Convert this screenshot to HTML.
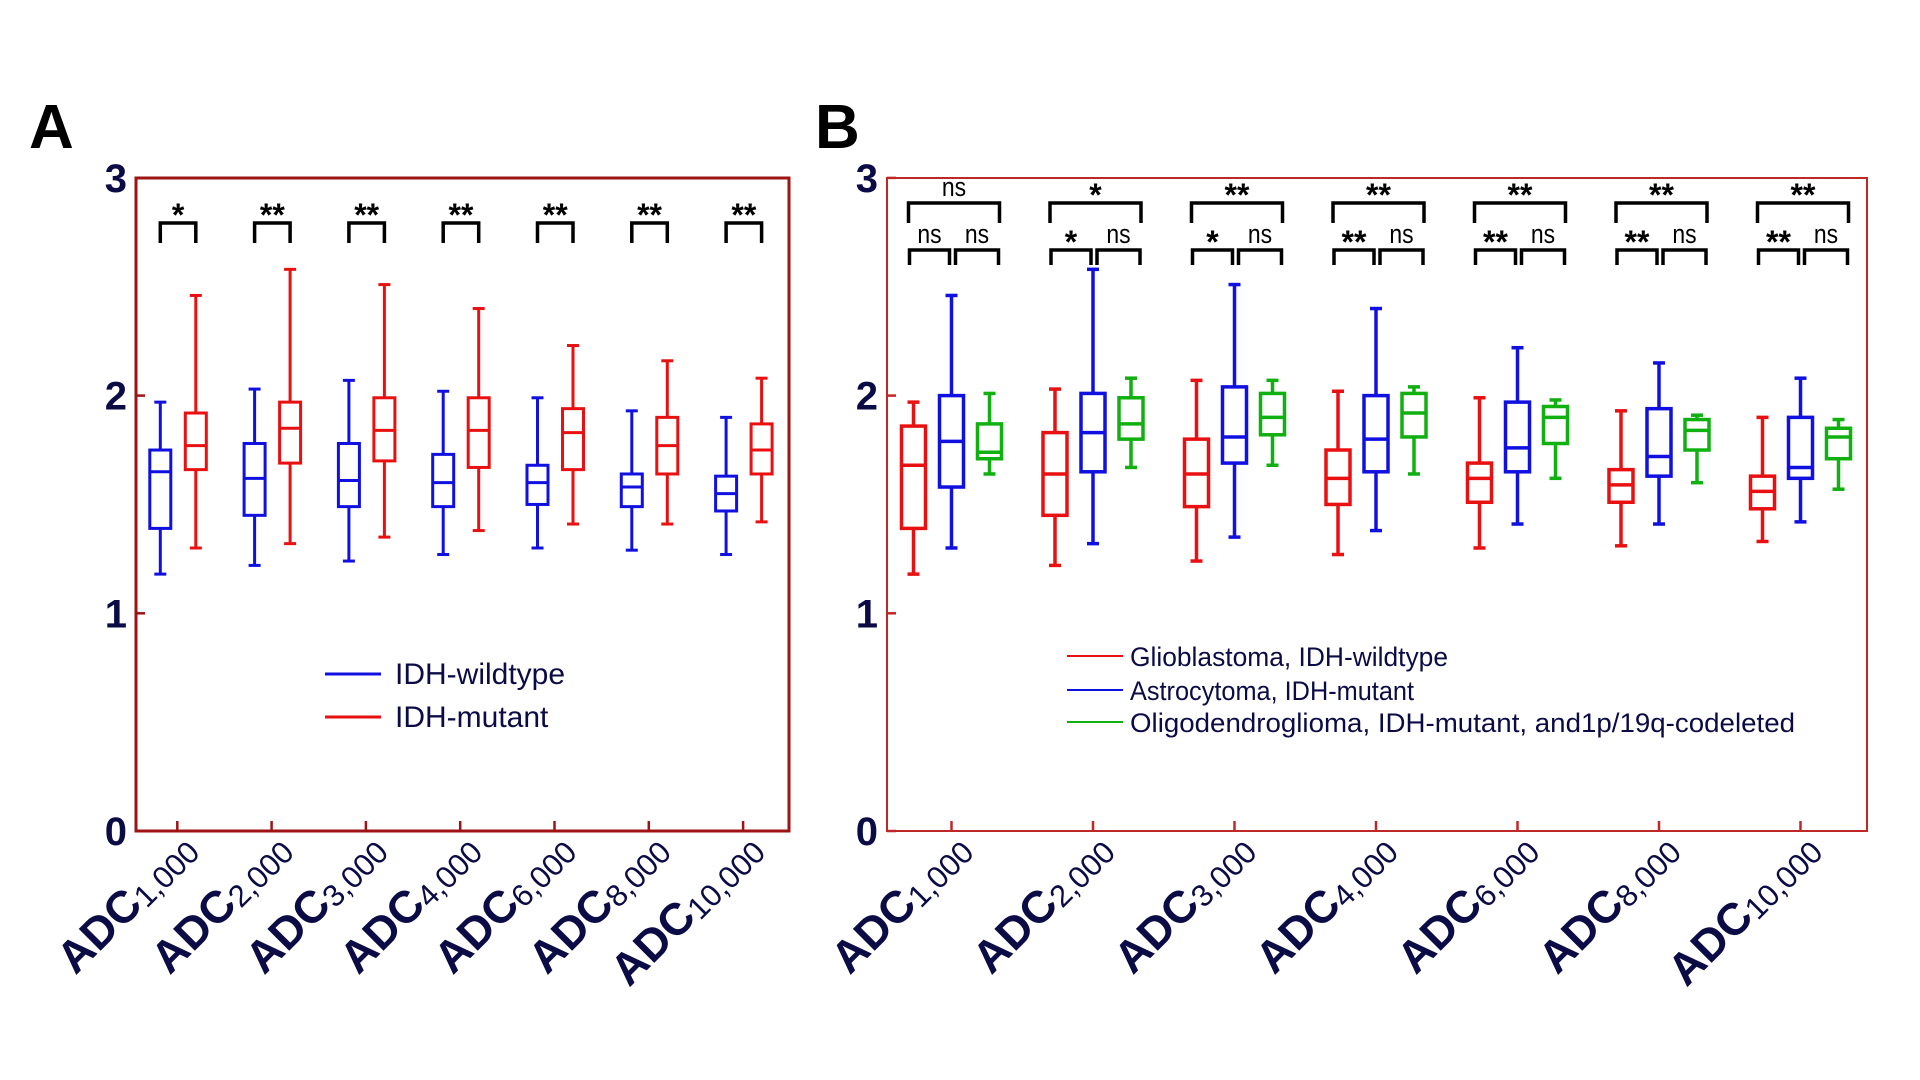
<!DOCTYPE html>
<html><head><meta charset="utf-8"><style>
html,body{margin:0;padding:0;background:#fff;}
svg{display:block;font-family:"Liberation Sans",Arial,sans-serif;}
</style></head><body>
<svg id="fig" width="1920" height="1080" viewBox="0 0 1920 1080"></svg>
<script>
const categories = ["1,000","2,000","3,000","4,000","6,000","8,000","10,000"];
const yTicks = [0,1,2,3];
// box stats: [whiskerLow, q1, median, q3, whiskerHigh]
const aWildtype = [[1.18,1.39,1.65,1.75,1.97],[1.22,1.45,1.62,1.78,2.03],[1.24,1.49,1.61,1.78,2.07],[1.27,1.49,1.60,1.73,2.02],[1.30,1.50,1.60,1.68,1.99],[1.29,1.49,1.58,1.64,1.93],[1.27,1.47,1.55,1.63,1.90]];
const aMutant = [[1.30,1.66,1.77,1.92,2.46],[1.32,1.69,1.85,1.97,2.58],[1.35,1.70,1.84,1.99,2.51],[1.38,1.67,1.84,1.99,2.40],[1.41,1.66,1.83,1.94,2.23],[1.41,1.64,1.77,1.90,2.16],[1.42,1.64,1.75,1.87,2.08]];
const aSig = ["*","**","**","**","**","**","**"];
const bGlio = [[1.18,1.39,1.68,1.86,1.97],[1.22,1.45,1.64,1.83,2.03],[1.24,1.49,1.64,1.80,2.07],[1.27,1.50,1.62,1.75,2.02],[1.30,1.51,1.62,1.69,1.99],[1.31,1.51,1.59,1.66,1.93],[1.33,1.48,1.56,1.63,1.90]];
const bAstro = [[1.30,1.58,1.79,2.00,2.46],[1.32,1.65,1.83,2.01,2.58],[1.35,1.69,1.81,2.04,2.51],[1.38,1.65,1.80,2.00,2.40],[1.41,1.65,1.76,1.97,2.22],[1.41,1.63,1.72,1.94,2.15],[1.42,1.62,1.67,1.90,2.08]];
const bOligo = [[1.64,1.71,1.74,1.87,2.01],[1.67,1.80,1.87,1.99,2.08],[1.68,1.82,1.90,2.01,2.07],[1.64,1.81,1.92,2.01,2.04],[1.62,1.78,1.90,1.95,1.98],[1.60,1.75,1.84,1.89,1.91],[1.57,1.71,1.81,1.85,1.89]];
const bSigTop = ["ns","*","**","**","**","**","**"];
const bSigLeft = ["ns","*","*","**","**","**","**"];
const bSigRight = ["ns","ns","ns","ns","ns","ns","ns"];

const NS="http://www.w3.org/2000/svg";
const svg=document.getElementById('fig');
function el(tag,attrs,parent){const e=document.createElementNS(NS,tag);for(const k in attrs)e.setAttribute(k,attrs[k]);(parent||svg).appendChild(e);return e;}
const NAVY="#0b0b45";
const yScale=v=>831-v*217.7;

function panel(cfg){
  const g=el('g',{});
  
  
  const xScale=i=>cfg.x0+i*cfg.step;
  const fr=el('rect',{x:cfg.left,y:178,width:cfg.right-cfg.left,height:653,fill:'none',stroke:cfg.axisColor,'stroke-width':cfg.axisW},g);
  
  
  yTicks.forEach(t=>{
    const y=yScale(t);
    el('line',{x1:cfg.left,x2:cfg.left+9,y1:y,y2:y,stroke:cfg.axisColor,'stroke-width':2.5},g);
    const tx=el('text',{x:cfg.left-9,y:y+14,'text-anchor':'end','font-size':40,'font-weight':'bold',fill:NAVY},g);
    tx.textContent=t;
    
    
  });
  categories.forEach((c,i)=>{
    const x=xScale(i);
    el('line',{x1:x,x2:x,y1:831,y2:821,stroke:cfg.axisColor,'stroke-width':2.5},g);
    const tx=el('text',{transform:`translate(${x+22},${852}) rotate(-45)`,'text-anchor':'end',fill:NAVY},g);
    
    
    const t1=el('tspan',{'font-size':45,'font-weight':'bold'},tx);t1.textContent='ADC';
    const t2=el('tspan',{'font-size':31,dy:3},tx);t2.textContent=c;
  });
  cfg.series.forEach(s=>{
    s.data.forEach((d,i)=>{
      const cx=xScale(i)+s.off, w=cfg.boxW;
      const bg=el('g',{stroke:s.color,'stroke-width':cfg.lw,fill:'none'},g);
      
      
      el('line',{x1:cx,x2:cx,y1:yScale(d[0]),y2:yScale(d[1])},bg);
      el('line',{x1:cx,x2:cx,y1:yScale(d[3]),y2:yScale(d[4])},bg);
      el('line',{x1:cx-6,x2:cx+6,y1:yScale(d[0]),y2:yScale(d[0])},bg);
      el('line',{x1:cx-6,x2:cx+6,y1:yScale(d[4]),y2:yScale(d[4])},bg);
      el('rect',{x:cx-w/2,y:yScale(d[3]),width:w,height:yScale(d[1])-yScale(d[3])},bg);
      el('line',{x1:cx-w/2,x2:cx+w/2,y1:yScale(d[2]),y2:yScale(d[2])},bg);
    });
  });
  return {g,xScale};
}
function bracket(g,x1,x2,yTop,yBot,label,name){
  const b=el('path',{d:`M${x1},${yBot} V${yTop} H${x2} V${yBot}`,fill:'none',stroke:'#000','stroke-width':3.5},g);
  
  
  const isStar=label.indexOf('*')>=0;
  const cx=(x1+x2)/2;
  const t=el('text',{x:cx,y:isStar?yTop+3:yTop-7,'text-anchor':'middle','font-size':isStar?32:27,'font-weight':isStar?'bold':'normal',fill:'#000'},g);
  if(!isStar)t.setAttribute('transform',`translate(${cx},0) scale(0.85,1) translate(${-cx},0)`);
  t.textContent=label;
  
  
}

const A=panel({name:'panel-a',left:136,right:789,x0:177.3,step:94.3,axisColor:'#9e1414',axisW:3,boxW:21,lw:3,
  series:[{key:'wildtype',data:aWildtype,color:'#1010e0',off:-17},{key:'mutant',data:aMutant,color:'#e81010',off:18.5}]});
aSig.forEach((s,i)=>{const x=A.xScale(i);bracket(A.g,x-17,x+18.5,223,243,s,'sig-bracket-a-'+i);});
(function(){
  const lg=el('g',{},A.g);
  [['IDH-wildtype','#1010e0',674],['IDH-mutant','#e81010',717]].forEach(([t,c,y])=>{
    el('line',{x1:325,x2:381,y1:y,y2:y,stroke:c,'stroke-width':3},lg);
    const tx=el('text',{x:395,y:y+10,'font-size':30,fill:NAVY},lg);tx.textContent=t;
    
  });
})();
const la=el('text',{x:29,y:148,'font-size':62,'font-weight':'bold',fill:'#000'});la.textContent='A';


const B=panel({name:'panel-b',left:887,right:1867,x0:951.5,step:141.5,axisColor:'#c02828',axisW:2,boxW:24,lw:3.5,
  series:[{key:'glioblastoma',data:bGlio,color:'#e81010',off:-38},{key:'astrocytoma',data:bAstro,color:'#1010e0',off:0},{key:'oligodendroglioma',data:bOligo,color:'#10b010',off:38}]});
categories.forEach((c,i)=>{
  const x=B.xScale(i);
  bracket(B.g,x-43,x+48,203,223,bSigTop[i],'sig-top-b-'+i);
  bracket(B.g,x-42,x-2,250,265,bSigLeft[i],'sig-left-b-'+i);
  bracket(B.g,x+4,x+47,250,265,bSigRight[i],'sig-right-b-'+i);
});
(function(){
  const lg=el('g',{},B.g);
  [['Glioblastoma, IDH-wildtype','#e81010',656,318],['Astrocytoma, IDH-mutant','#1010e0',690,284],['Oligodendroglioma, IDH-mutant, and1p/19q-codeleted','#10b010',722,665]].forEach(([t,c,y,w])=>{
    el('line',{x1:1067,x2:1123,y1:y,y2:y,stroke:c,'stroke-width':2},lg);
    const tx=el('text',{x:1130,y:y+10,'font-size':27,fill:NAVY,textLength:w,lengthAdjust:'spacingAndGlyphs'},lg);tx.textContent=t;
    
  });
})();
const lb=el('text',{x:815,y:148,'font-size':62,'font-weight':'bold',fill:'#000'});lb.textContent='B';

</script>
</body></html>
